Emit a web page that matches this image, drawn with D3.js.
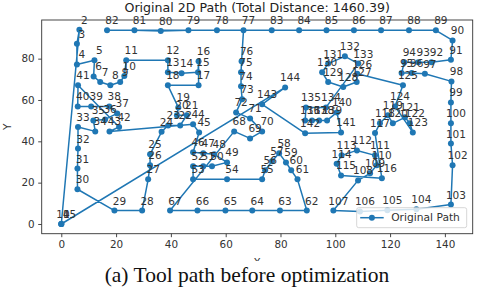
<!DOCTYPE html>
<html>
<head>
<meta charset="utf-8">
<script src="https://cdn.jsdelivr.net/npm/d3@7"></script>
<style>
  body { margin: 0; background: #fff; }
  svg { display: block; }
</style>
</head>
<body>
<div id="chart"></div>
<script>
// path order, node i is at (pathX[i], pathY[i]); label = index
var pathX = [
  0, 0, 6.6, 5.7, 5.7, 12.1, 11.8, 14.2, 17.9, 21.5,            // 0-9
  23.0, 23.7, 38.9, 38.9, 43.9, 49.9, 50.1, 50.1, 38.9, 42.7,   // 10-19
  42.2, 45.8, 43.4, 39.0, 36.6, 32.4, 32.4, 31.7, 29.5, 19.4,   // 20-29
  5.9, 5.9, 6.1, 6.1, 12.4, 11.7, 16.0, 20.4, 17.5, 10.9,       // 30-39
  6.0, 6.1, 21.1, 17.6, 48.1, 50.3, 48.1, 51.8, 55.8, 60.5,     // 40-49
  55.0, 51.8, 48.1, 48.1, 60.5, 73.3, 74.4, 76.9, 79.5, 82.0,   // 50-59
  83.9, 86.2, 89.6, 79.8, 69.7, 59.9, 49.7, 39.7, 63.1, 68.9,   // 60-69
  73.3, 68.9, 63.8, 66.0, 65.6, 65.6, 65.8, 66.5, 56.8, 46.4,   // 70-79
  36.3, 26.7, 16.7, 76.8, 86.8, 96.8, 106.8, 116.7, 126.9, 136.7, // 80-89
  142.8, 142.2, 135.1, 130.3, 125.2, 124.2, 127.9, 132.7, 142.4, 142.2, // 90-99
  142.2, 142.2, 142.8, 142.2, 129.6, 119.0, 109.0, 99.3, 108.3, 112.7, // 100-109
  115.1, 114.5, 107.9, 102.3, 100.5, 102.1, 117.0, 114.5, 116.3, 119.2, // 110-119
  121.0, 125.4, 127.2, 128.3, 121.8, 124.7, 108.0, 107.8, 102.9, 97.4,  // 120-129
  95.2, 97.4, 103.5, 108.4, 96.6, 89.3, 89.0, 91.5, 94.1, 97.0,  // 130-139
  100.6, 102.1, 89.0, 73.3, 81.7, 0                              // 140-145
];
var pathY = [
  0, 0, 94.0, 87.2, 77.2, 79.2, 71.4, 68.7, 67.1, 68.7,
  71.6, 79.2, 79.2, 73.4, 72.9, 73.4, 78.7, 67.1, 67.1, 56.4,
  52.6, 52.6, 47.7, 47.7, 44.6, 33.7, 28.4, 21.6, 6.5, 6.5,
  16.8, 26.8, 36.5, 46.9, 44.8, 50.1, 50.6, 53.5, 56.9, 56.9,
  56.9, 67.1, 46.9, 44.8, 48.2, 44.3, 34.7, 34.2, 33.7, 29.8,
  27.9, 27.9, 27.9, 21.6, 21.6, 21.6, 26.0, 30.3, 34.2, 29.8,
  26.0, 21.6, 6.5, 6.5, 6.5, 6.5, 6.5, 6.5, 44.8, 41.4,
  44.8, 51.1, 54.0, 60.3, 66.6, 73.4, 78.7, 93.7, 93.7, 93.7,
  93.4, 93.7, 93.7, 93.7, 93.7, 93.7, 93.7, 93.7, 93.7, 93.7,
  88.8, 79.5, 78.3, 78.3, 78.3, 73.0, 73.0, 72.7, 69.0, 58.8,
  48.7, 38.9, 28.4, 9.4, 7.1, 6.6, 6.1, 6.5, 21.1, 24.5,
  28.4, 33.2, 35.6, 33.2, 29.2, 23.5, 22.1, 44.0, 48.7, 52.6,
  48.7, 51.6, 48.7, 44.3, 56.9, 67.1, 72.7, 68.7, 66.3, 68.7,
  73.4, 77.6, 81.1, 77.6, 56.4, 56.4, 50.1, 50.1, 50.1, 50.1,
  54.0, 44.3, 43.9, 57.9, 66.1, 0
];
var xTicks = [0, 20, 40, 60, 80, 100, 120, 140];
var yTicks = [0, 20, 40, 60, 80];
var titleText = "Original 2D Path (Total Distance: 1460.39)";
var legendText = "Original Path";
var captionText = "(a) Tool path before optimization";

var svgWidth = 480, svgHeight = 288;
var margin = { top: 20, right: 7.3, bottom: 54.3, left: 41.7 };
var chartWidth = svgWidth - margin.left - margin.right;
var chartHeight = svgHeight - margin.top - margin.bottom;
var blue = "#1f77b4", ink = "#333";
var font = "DejaVu Sans, sans-serif";

var nodes = pathX.map(function(x, i) { return { id: i, x: x, y: pathY[i] }; });

var svg = d3.select("#chart").append("svg")
  .attr("width", svgWidth)
  .attr("height", svgHeight);

var chartGroup = svg.append("g")
  .attr("transform", `translate(${margin.left}, ${margin.top})`);

var xScale = d3.scaleLinear().domain([-7.15, 150.15]).range([0, chartWidth]);
var yScale = d3.scaleLinear().domain([-4.7, 98.7]).range([chartHeight, 0]);

// axes
var bottomAxis = d3.axisBottom(xScale).tickValues(xTicks).tickSize(3.5).tickPadding(3.5).tickSizeOuter(0);
var leftAxis = d3.axisLeft(yScale).tickValues(yTicks).tickSize(3.5).tickPadding(3.5).tickSizeOuter(0);

var gx = chartGroup.append("g").attr("transform", `translate(0, ${chartHeight})`).call(bottomAxis);
var gy = chartGroup.append("g").call(leftAxis);
[gx, gy].forEach(function(g) {
  g.select(".domain").remove();
  g.selectAll("line").attr("stroke", ink).attr("stroke-width", 0.9);
  g.selectAll("text").attr("fill", ink).style("font-family", font).style("font-size", "10.4px");
});

// path line + markers
var line = d3.line().x(d => xScale(d.x)).y(d => yScale(d.y));
chartGroup.append("path")
  .datum(nodes)
  .attr("d", line)
  .attr("fill", "none")
  .attr("stroke", blue)
  .attr("stroke-width", 1.5)
  .attr("stroke-linejoin", "round");

chartGroup.selectAll(".node")
  .data(nodes)
  .enter()
  .append("circle")
  .attr("class", "node")
  .attr("cx", d => xScale(d.x))
  .attr("cy", d => yScale(d.y))
  .attr("r", 3)
  .attr("fill", blue);

// node labels
chartGroup.selectAll(".nodeText")
  .data(nodes)
  .enter()
  .append("text")
  .attr("class", "nodeText")
  .attr("x", d => xScale(d.x) + 5)
  .attr("y", d => yScale(d.y) - 6)
  .attr("text-anchor", "middle")
  .style("font-family", font)
  .style("font-size", "10.5px")
  .attr("fill", ink)
  .text(d => d.id);

// frame
chartGroup.append("rect")
  .attr("width", chartWidth)
  .attr("height", chartHeight)
  .attr("fill", "none")
  .attr("stroke", ink)
  .attr("stroke-width", 0.9);

// legend
var lg = chartGroup.append("g").attr("transform", `translate(${chartWidth - 116}, ${chartHeight - 26})`);
lg.append("rect")
  .attr("width", 110).attr("height", 20).attr("rx", 2)
  .attr("fill", "#fff").attr("fill-opacity", 0.8)
  .attr("stroke", "#ccc").attr("stroke-width", 0.8);
lg.append("line").attr("x1", 3.5).attr("x2", 27).attr("y1", 10).attr("y2", 10)
  .attr("stroke", blue).attr("stroke-width", 1.5);
lg.append("circle").attr("cx", 15.2).attr("cy", 10).attr("r", 3).attr("fill", blue);
lg.append("text").attr("x", 34.5).attr("y", 13.8)
  .style("font-family", font).style("font-size", "10.7px").attr("fill", ink)
  .text(legendText);

// title and axis labels
svg.append("text")
  .attr("x", margin.left + chartWidth / 2).attr("y", 11.5)
  .attr("text-anchor", "middle")
  .style("font-family", font).style("font-size", "12.6px").attr("fill", "#222")
  .text(titleText);

svg.append("text")
  .attr("transform", `translate(10.5, ${margin.top + chartHeight / 2}) rotate(-90)`)
  .attr("text-anchor", "middle")
  .style("font-family", font).style("font-size", "10.5px").attr("fill", ink)
  .text("Y");

svg.append("text")
  .attr("x", margin.left + chartWidth / 2).attr("y", 265.5)
  .attr("text-anchor", "middle")
  .style("font-family", font).style("font-size", "10.5px").attr("fill", ink)
  .text("X");

// caption pasted over the lower figure area
svg.append("rect").attr("x", 0).attr("y", 261).attr("width", svgWidth).attr("height", 27).attr("fill", "#fff");
svg.append("text")
  .attr("x", 247).attr("y", 282)
  .attr("text-anchor", "middle")
  .style("font-family", "Liberation Serif, serif").style("font-size", "21.5px").attr("fill", "#111")
  .text(captionText);
</script>
</body>
</html>
